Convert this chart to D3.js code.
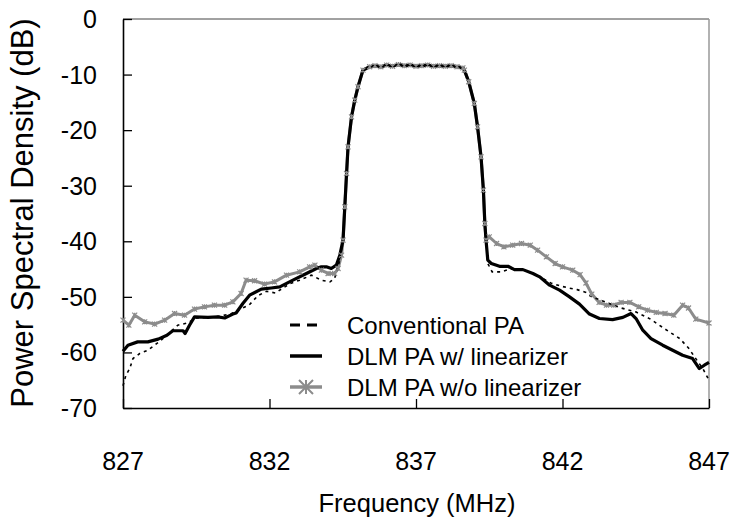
<!DOCTYPE html>
<html>
<head>
<meta charset="utf-8">
<script src="https://cdn.jsdelivr.net/npm/d3@7"></script>
<style>
  body { margin: 0; background: #fff; }
  svg text { font-family: Arial, "Liberation Sans", sans-serif; fill: #000; }
</style>
</head>
<body>
<svg id="chart"></svg>
<script>
const width = 733;
const height = 526;
const margin = { top: 19, left: 123, right: 24, bottom: 118 };

const freqTicks = [827, 832, 837, 842, 847];
const dbTicks = [0, -10, -20, -30, -40, -50, -60, -70];
const seriesNames = ["Conventional PA", "DLM PA w/ linearizer", "DLM PA w/o linearizer"];

// main channel, shared by all three traces
const band = [
  [834.51, -39.8], [834.57, -33.8], [834.63, -27.8], [834.68, -23.0], [834.8, -17.6],
  [834.91, -14.6], [835.02, -12.2], [835.19, -9.2], [835.42, -8.6], [835.6, -8.4],
  [835.8, -8.6], [836.0, -8.3], [836.2, -8.5], [836.4, -8.2], [836.6, -8.4],
  [836.8, -8.3], [837.0, -8.5], [837.2, -8.4], [837.4, -8.3], [837.6, -8.5],
  [837.8, -8.4], [838.0, -8.5], [838.2, -8.4], [838.4, -8.6], [838.6, -8.8],
  [838.65, -9.2], [838.8, -11.3], [838.99, -15.2], [839.1, -19.4], [839.22, -24.8],
  [839.3, -30.8], [839.35, -36.8], [839.39, -39.8]
];

const convLeft = [
  [827.0, -66.0], [827.1, -64.1], [827.23, -62.9], [827.34, -61.1], [827.57, -60.2],
  [827.85, -59.6], [828.3, -57.8], [828.87, -55.1], [829.2, -54.7], [829.5, -53.8],
  [829.9, -53.7], [830.3, -53.5], [830.7, -53.0], [831.0, -52.2], [831.3, -51.5],
  [831.6, -49.8], [831.9, -49.0], [832.2, -49.3], [832.7, -47.6], [833.03, -47.0],
  [833.43, -46.1], [833.77, -47.0], [834.06, -47.3], [834.22, -46.7], [834.4, -43.4]
];
const convRight = [
  [839.45, -44.0], [839.6, -45.5], [839.9, -45.5], [840.2, -45.0], [840.6, -45.0],
  [841.0, -45.8], [841.3, -46.6], [841.6, -47.5], [841.9, -48.0], [842.2, -48.4],
  [842.5, -48.7], [842.8, -49.2], [843.0, -50.0], [843.5, -51.0], [844.0, -52.0],
  [844.5, -52.7], [845.0, -54.0], [845.5, -55.8], [846.0, -57.5], [846.3, -59.2],
  [846.6, -61.5], [846.8, -63.0], [847.0, -65.0]
];

const linLeft = [
  [827.0, -59.8], [827.17, -58.7], [827.5, -58.1], [827.85, -58.1], [828.2, -57.6],
  [828.5, -56.9], [828.7, -56.1], [829.05, -56.1], [829.12, -56.6], [829.27, -55.1],
  [829.44, -53.6], [829.9, -53.7], [830.24, -53.6], [830.47, -53.8], [830.75, -53.1],
  [830.86, -52.9], [831.09, -51.2], [831.32, -49.7], [831.72, -48.6], [832.06, -48.4],
  [832.35, -48.2], [832.8, -47.0], [833.26, -45.8], [833.6, -44.9], [833.77, -44.6],
  [833.94, -44.6], [834.11, -44.9], [834.28, -44.3], [834.4, -42.5]
];
const linRight = [
  [839.45, -43.4], [839.57, -44.0], [839.85, -44.5], [840.14, -44.5], [840.36, -45.1],
  [840.65, -45.1], [840.99, -45.8], [841.22, -46.4], [841.56, -47.9], [841.9, -48.8],
  [842.24, -50.0], [842.58, -51.3], [842.92, -53.1], [843.26, -53.9], [843.71, -54.1],
  [844.06, -53.7], [844.34, -53.0], [844.51, -53.9], [844.74, -56.0], [845.02, -57.5],
  [845.42, -58.7], [845.76, -59.6], [846.1, -60.5], [846.44, -61.1], [846.67, -62.9],
  [846.84, -62.3], [847.0, -61.8]
];

const nolinLeft = [
  [827.0, -54.2], [827.2, -55.1], [827.4, -53.3], [827.74, -54.5], [828.08, -54.9],
  [828.42, -54.2], [828.76, -53.0], [829.1, -53.3], [829.44, -52.2], [829.78, -51.8],
  [830.12, -51.5], [830.47, -51.5], [830.75, -50.9], [831.03, -49.4], [831.2, -47.0],
  [831.49, -47.1], [831.83, -47.7], [832.17, -47.3], [832.58, -46.1], [833.03, -45.5],
  [833.37, -44.6], [833.55, -44.3], [833.77, -45.2], [834.0, -45.8], [834.22, -45.8],
  [834.34, -44.9], [834.46, -42.5]
];
const nolinRight = [
  [839.5, -39.2], [839.75, -40.4], [840.0, -41.0], [840.3, -40.7], [840.6, -40.4],
  [840.9, -40.7], [841.15, -41.6], [841.45, -42.8], [841.75, -44.0], [842.0, -44.6],
  [842.35, -45.2], [842.6, -46.0], [842.8, -47.5], [843.0, -49.5], [843.25, -51.0],
  [843.5, -51.5], [843.75, -51.5], [844.0, -51.0], [844.3, -51.0], [844.6, -51.8],
  [844.9, -52.4], [845.2, -52.8], [845.5, -53.0], [845.8, -53.3], [846.1, -51.5],
  [846.3, -52.0], [846.55, -54.0], [847.0, -54.7]
];

const conv = convLeft.concat(band, convRight);
const lin = linLeft.concat(band, linRight);
const nolin = nolinLeft.concat(band, nolinRight);

const grey = "#8c8c8c";

let svg = d3.select("#chart")
            .attr("width", width)
            .attr("height", height);

let xScale = d3.scaleLinear()
               .domain([827, 847])
               .range([margin.left, width - margin.right]);

let yScale = d3.scaleLinear()
               .domain([-70, 0])
               .range([height - margin.bottom, margin.top]);

//frame: top and right edges
svg.append("line")
   .attr("x1", margin.left).attr("x2", width - margin.right)
   .attr("y1", yScale(0)).attr("y2", yScale(0))
   .attr("stroke", "#444").attr("stroke-width", 1);
svg.append("line")
   .attr("x1", width - margin.right).attr("x2", width - margin.right)
   .attr("y1", yScale(0)).attr("y2", yScale(-70))
   .attr("stroke", "#999").attr("stroke-width", 1.5);

//axes, ticks pointing inwards
let xAxis = d3.axisBottom(xScale)
              .tickValues(freqTicks)
              .tickSizeInner(-9)
              .tickSizeOuter(0)
              .tickFormat("");
let yAxis = d3.axisLeft(yScale)
              .tickValues(dbTicks)
              .tickSizeInner(-9)
              .tickSizeOuter(0)
              .tickFormat("");

let gx = svg.append("g")
   .attr("transform", `translate(0,${yScale(-70)})`)
   .call(xAxis);
let gy = svg.append("g")
   .attr("transform", `translate(${margin.left},0)`)
   .call(yAxis);
[gx, gy].forEach(g => {
  g.select(".domain").attr("stroke", "#000").attr("stroke-width", 1.6);
  g.selectAll(".tick line").attr("stroke", "#000").attr("stroke-width", 1.3);
});

svg.selectAll(".xlab")
   .data(freqTicks)
   .enter()
   .append("text")
     .attr("x", d => xScale(d))
     .attr("y", 470)
     .attr("text-anchor", "middle")
     .style("font-size", "25px")
     .text(d => d);

svg.selectAll(".ylab")
   .data(dbTicks)
   .enter()
   .append("text")
     .attr("x", 97)
     .attr("y", d => yScale(d) + 9)
     .attr("text-anchor", "end")
     .style("font-size", "25px")
     .text(d => d);

svg.append("text")
   .attr("x", 417)
   .attr("y", 512)
   .attr("text-anchor", "middle")
   .style("font-size", "25.5px")
   .text("Frequency (MHz)");

svg.append("text")
   .attr("transform", "translate(33,213) rotate(-90)")
   .attr("text-anchor", "middle")
   .style("font-size", "31px")
   .text("Power Spectral Density (dB)");

//curves
let line = d3.line()
             .x(d => xScale(d[0]))
             .y(d => yScale(d[1]));

let plot = svg.append("g");

function star(r) {
  return `M0,${-r}L0,${r}M${-r},${-r}L${r},${r}M${-r},${r}L${r},${-r}`;
}

plot.append("path")
    .datum(nolin)
    .attr("d", line)
    .attr("fill", "none")
    .attr("stroke", grey)
    .attr("stroke-width", 3)
    .attr("stroke-linejoin", "round");

plot.append("path")
    .datum(conv)
    .attr("d", line)
    .attr("fill", "none")
    .attr("stroke", "#000")
    .attr("stroke-width", 1.6)
    .attr("stroke-dasharray", "3,4");

plot.append("path")
    .datum(lin)
    .attr("d", line)
    .attr("fill", "none")
    .attr("stroke", "#000")
    .attr("stroke-width", 3.2)
    .attr("stroke-linejoin", "round");

//grey markers sit on top, so the channel edges read black with grey specks
plot.selectAll(".mk")
    .data(nolin)
    .enter()
    .append("path")
      .attr("transform", d => `translate(${xScale(d[0])},${yScale(d[1])})`)
      .attr("d", star(2.5))
      .attr("stroke", grey)
      .attr("stroke-width", 1.2);

//legend
let legendY = [325, 356, 387];
let legend = svg.append("g");

legend.append("line")
      .attr("x1", 290).attr("x2", 322)
      .attr("y1", legendY[0]).attr("y2", legendY[0])
      .attr("stroke", "#000").attr("stroke-width", 3)
      .attr("stroke-dasharray", "10,7");
legend.append("line")
      .attr("x1", 290).attr("x2", 322)
      .attr("y1", legendY[1]).attr("y2", legendY[1])
      .attr("stroke", "#000").attr("stroke-width", 3.5);
legend.append("line")
      .attr("x1", 290).attr("x2", 322)
      .attr("y1", legendY[2]).attr("y2", legendY[2])
      .attr("stroke", grey).attr("stroke-width", 3.5);
legend.append("path")
      .attr("transform", `translate(306,${legendY[2]})`)
      .attr("d", star(7))
      .attr("stroke", grey)
      .attr("stroke-width", 2);

legend.selectAll("text")
      .data(seriesNames)
      .enter()
      .append("text")
        .attr("x", 347)
        .attr("y", (d, i) => legendY[i] + 8.5)
        .style("font-size", "24px")
        .text(d => d);
</script>
</body>
</html>
